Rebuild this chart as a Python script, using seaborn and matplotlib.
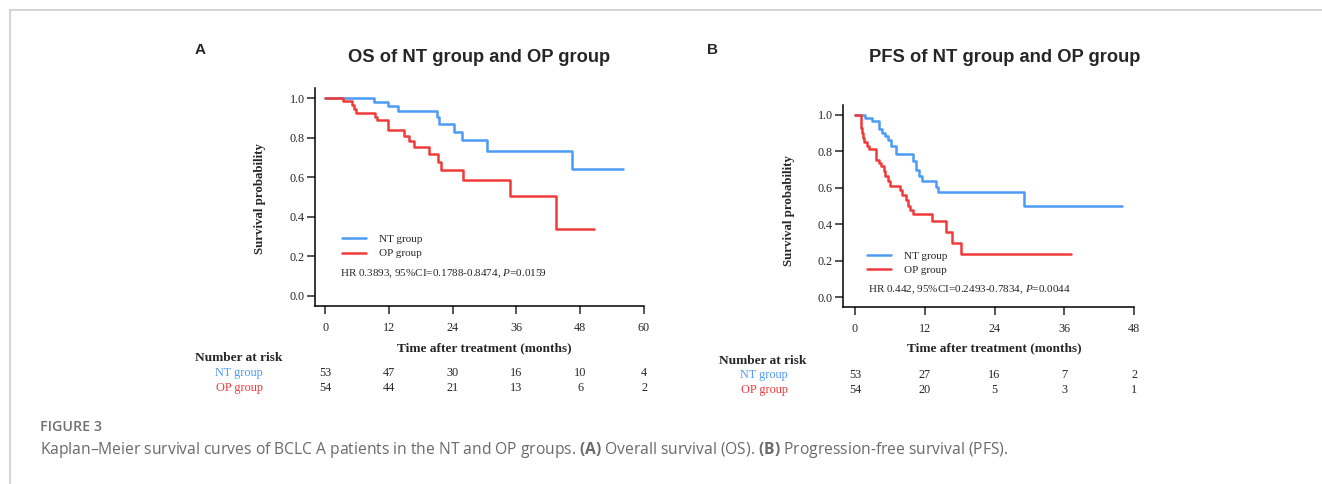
import matplotlib
matplotlib.use("Agg")
import matplotlib.pyplot as plt
import matplotlib.transforms as mtransforms
from matplotlib.lines import Line2D
import seaborn as sns
import pandas as pd

# ---- data ----
# panel A: overall survival, step curves (time in months, survival probability)
os_nt_t = [0, 9.25, 11.76, 13.65, 21.07, 21.45, 24.3, 25.8, 30.5, 46.5, 56.0]
os_nt_s = [1.0, 0.983, 0.960, 0.936, 0.903, 0.871, 0.831, 0.789, 0.735, 0.644, 0.644]
os_op_t = [0, 3.46, 5.03, 5.35, 5.85, 9.31, 9.75, 11.76, 14.9, 15.7, 16.7, 19.5,
           21.3, 21.9, 26.0, 34.8, 43.5, 50.5]
os_op_s = [1.0, 0.987, 0.966, 0.946, 0.926, 0.906, 0.888, 0.841, 0.810, 0.782, 0.752,
           0.716, 0.678, 0.638, 0.587, 0.505, 0.337, 0.337]

# panel B: progression-free survival
pfs_nt_t = [0, 1.79, 2.88, 4.09, 4.67, 5.24, 5.65, 6.11, 7.09, 9.97, 10.43, 11.0,
            11.5, 14.0, 14.35, 29.0, 46.0]
pfs_nt_s = [1.0, 0.982, 0.962, 0.922, 0.901, 0.881, 0.859, 0.830, 0.785, 0.748, 0.697,
            0.666, 0.639, 0.604, 0.577, 0.502, 0.502]
pfs_op_t = [0, 1.04, 1.2, 1.4, 1.61, 2.0, 2.48, 3.63, 4.1, 4.5, 4.9, 5.24, 5.6, 5.94,
            7.67, 8.13, 8.82, 9.1, 9.5, 9.97, 13.26, 15.6, 16.66, 18.3, 37.1]
pfs_op_s = [1.0, 0.927, 0.90, 0.872, 0.849, 0.83, 0.81, 0.75, 0.733, 0.717, 0.69, 0.662,
            0.635, 0.611, 0.586, 0.562, 0.535, 0.502, 0.48, 0.456, 0.416, 0.356, 0.297,
            0.237, 0.237]

# number at risk tables
os_ticks = [0, 12, 24, 36, 48, 60]
os_risk_nt = [53, 47, 30, 16, 10, 4]
os_risk_op = [54, 44, 21, 13, 6, 2]
pfs_ticks = [0, 12, 24, 36, 48]
pfs_risk_nt = [53, 27, 16, 7, 2]
pfs_risk_op = [54, 20, 5, 3, 1]

hr_os = "HR 0.3893, 95%CI=0.1788-0.8474, $P$=0.0159"
hr_pfs = "HR 0.442, 95%CI=0.2493-0.7834, $P$=0.0044"

BLUE = "#4c9bf7"
RED = "#f03a3a"
W, H = 1322, 484

sns.set_style("ticks")
plt.rcParams["font.family"] = ["Liberation Serif", "DejaVu Serif"]
plt.rcParams["mathtext.fontset"] = "custom"
plt.rcParams["mathtext.it"] = "Liberation Serif:italic"
plt.rcParams["mathtext.rm"] = "Liberation Serif"
plt.rcParams["mathtext.bf"] = "Open Sans:bold"

fig = plt.figure(figsize=(W / 100, H / 100), dpi=100)
fig.patch.set_facecolor("white")


def px(x, y):
    return x / W, 1 - y / H


def km_panel(rect, nt_t, nt_s, op_t, op_s, ticks, xmin, leg_xy, hr_xy, hr_text):
    ax = fig.add_axes([rect[0] / W, 1 - rect[3] / H, (rect[2] - rect[0]) / W,
                       (rect[3] - rect[1]) / H])
    d_nt = pd.DataFrame({"t": nt_t, "s": nt_s})
    d_op = pd.DataFrame({"t": op_t, "s": op_s})
    sns.lineplot(data=d_nt, x="t", y="s", ax=ax, color=BLUE, lw=1.8,
                 drawstyle="steps-post", estimator=None, label="NT group")
    sns.lineplot(data=d_op, x="t", y="s", ax=ax, color=RED, lw=1.8,
                 drawstyle="steps-post", estimator=None, label="OP group")
    ax.set_xlim(xmin, ticks[-1])
    ax.set_ylim(-0.052, 1.052)
    ax.set_xticks(ticks)
    ax.set_yticks([0, 0.2, 0.4, 0.6, 0.8, 1.0])
    ax.set_yticklabels(["0.0", "0.2", "0.4", "0.6", "0.8", "1.0"])
    ax.set_xlabel("")
    ax.set_ylabel("")
    for sp in ["top", "right"]:
        ax.spines[sp].set_visible(False)
    for sp in ["left", "bottom"]:
        ax.spines[sp].set_linewidth(1.1)
        ax.spines[sp].set_color("black")
    ax.tick_params(axis="y", length=5.5, width=1.1, pad=2, labelsize=8.7)
    ax.tick_params(axis="x", length=5.5, width=1.1, pad=6, labelsize=8.7)
    ax.legend(loc="upper left", bbox_to_anchor=leg_xy, frameon=False, fontsize=8,
              borderaxespad=0, borderpad=0, handlelength=2.2, handletextpad=1.1,
              labelspacing=0.4)
    ax.text(hr_xy[0], hr_xy[1], hr_text, transform=ax.transAxes, fontsize=8,
            va="center", ha="left")
    return ax


ax_a = km_panel((315, 88, 644, 306), os_nt_t, os_nt_s, os_op_t, os_op_s, os_ticks,
                -1.9, (0.082, 0.328), (0.076, 0.147), hr_os)
ax_b = km_panel((843, 105, 1134, 307), pfs_nt_t, pfs_nt_s, pfs_op_t, pfs_op_s,
                pfs_ticks, -2.07, (0.082, 0.278), (0.086, 0.085), hr_pfs)

# titles
fig.text(*px(200, 50), "A", fontsize=11, fontweight="bold", family="Liberation Sans",
         ha="center", va="center")
fig.text(*px(479, 57), "OS of NT group and OP group", fontsize=13.2, fontweight="bold",
         family="Liberation Sans", ha="center", va="center")
fig.text(*px(712, 50), "B", fontsize=11, fontweight="bold", family="Liberation Sans",
         ha="center", va="center")
fig.text(*px(1005, 57), "PFS of NT group and OP group", fontsize=13.2,
         fontweight="bold", family="Liberation Sans", ha="center", va="center")

# y labels
fig.text(*px(260, 199), "Survival probability", rotation=90, fontsize=9.3,
         fontweight="bold", ha="center", va="center")
fig.text(*px(789, 210), "Survival probability", rotation=90, fontsize=9.3,
         fontweight="bold", ha="center", va="center")


def risk_table(ax, ticks, r_nt, r_op, xlab_y, head_xy, lab_right, y_nt, y_op):
    tr = mtransforms.blended_transform_factory(ax.transData, fig.transFigure)
    mid = (ticks[0] + ticks[-1]) / 2
    ax.text(mid, 1 - xlab_y / H, "Time after treatment (months)", transform=tr,
            fontsize=9.6, fontweight="bold", ha="center", va="center")
    fig.text(*px(*head_xy), "Number at risk", fontsize=9.6, fontweight="bold",
             ha="left", va="center")
    fig.text(*px(lab_right, y_nt), "NT group", fontsize=8.8, color=BLUE,
             ha="right", va="center")
    fig.text(*px(lab_right, y_op), "OP group", fontsize=8.8, color=RED,
             ha="right", va="center")
    for t, a, b in zip(ticks, r_nt, r_op):
        ax.text(t, 1 - y_nt / H, str(a), transform=tr, fontsize=8.8, ha="center",
                va="center")
        ax.text(t, 1 - y_op / H, str(b), transform=tr, fontsize=8.8, ha="center",
                va="center")


risk_table(ax_a, os_ticks, os_risk_nt, os_risk_op, 348, (195, 358), 263, 373, 388)
risk_table(ax_b, pfs_ticks, pfs_risk_nt, pfs_risk_op, 348, (719, 361), 788, 375, 390)

# caption and frame
fig.text(*px(40, 427), "FIGURE 3", fontsize=10.3, fontweight="semibold",
         family="Open Sans", color="#707070", ha="left", va="center")
fig.text(*px(40, 450),
         "Kaplan\u2013Meier survival curves of BCLC A patients in the NT and OP groups. "
         "$\\bf{(A)}$ Overall survival (OS). $\\bf{(B)}$ Progression-free survival (PFS).",
         fontsize=11.25, family="Open Sans", color="#6a6a6a", ha="left", va="center")
fig.add_artist(Line2D([9.5 / W, 9.5 / W], [0, 1 - 9.5 / H], color="#cccccc", lw=1.2))
fig.add_artist(Line2D([9.5 / W, 1], [1 - 9.5 / H, 1 - 9.5 / H], color="#cccccc", lw=1.2))

fig.savefig("out.png", dpi=100)
